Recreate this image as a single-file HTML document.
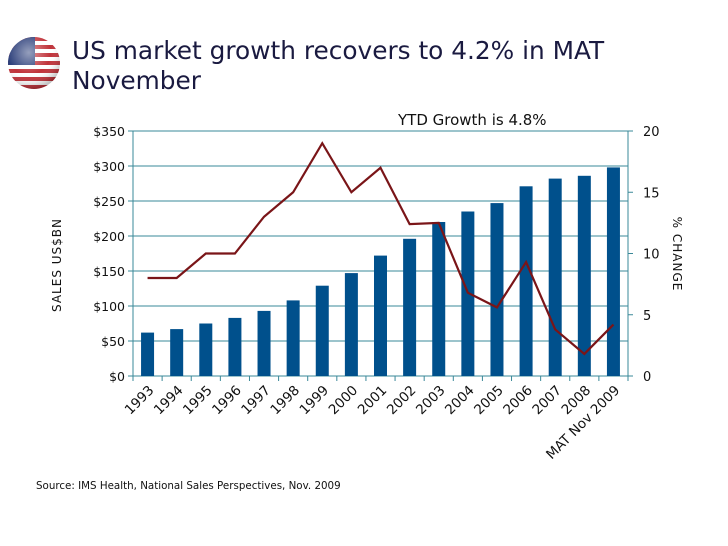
<!DOCTYPE html>
<html><head><meta charset="utf-8"><style>
body{margin:0;width:728px;height:546px;background:#fff;overflow:hidden;font-family:"DejaVu Sans","Liberation Sans",sans-serif;}
svg{position:absolute;left:0;top:0}
</style></head><body>
<svg width="728" height="546">
  <defs>
    <clipPath id="fc"><circle cx="34" cy="63" r="26"/></clipPath>
    <radialGradient id="gl" cx="0.4" cy="0.3" r="0.7"><stop offset="0" stop-color="#fff" stop-opacity="0.5"/><stop offset="0.6" stop-color="#fff" stop-opacity="0"/><stop offset="1" stop-color="#000" stop-opacity="0.25"/></radialGradient>
  </defs>
  <g clip-path="url(#fc)">
    <rect x="8" y="37" width="52" height="52" fill="#fff"/>
    <g id="stripes"></g>
    <rect x="8" y="37" width="27" height="28" fill="#2c3f7a"/>
    <circle cx="34" cy="63" r="26" fill="url(#gl)"/>
  </g>
  <text x="72" y="59" font-size="24.8" fill="#1a1a40">US market growth recovers to 4.2% in MAT</text>
  <text x="72" y="89" font-size="24.8" fill="#1a1a40">November</text>
  <text x="398" y="125" font-size="15" fill="#111">YTD Growth is 4.8%</text>
  <g id="chart"></g>
  <text transform="translate(61,265) rotate(-90)" text-anchor="middle" font-size="12" letter-spacing="1" fill="#111">SALES US$BN</text>
  <text transform="translate(673,254) rotate(90)" text-anchor="middle" font-size="12" letter-spacing="1" fill="#111">% CHANGE</text>
  <text x="36" y="489" font-size="10.3" fill="#111">Source: IMS Health, National Sales Perspectives, Nov. 2009</text>
</svg>
<script>
const categories=["1993","1994","1995","1996","1997","1998","1999","2000","2001","2002","2003","2004","2005","2006","2007","2008","MAT Nov 2009"];
const salesValues=[62,67,75,83,93,108,129,147,172,196,220,235,247,271,282,286,298];
const growthValues=[8.0,8.0,10.0,10.0,13.0,15.0,19.0,15.0,17.0,12.4,12.5,6.8,5.6,9.3,3.8,1.8,4.2];
const leftTicks=[0,50,100,150,200,250,300,350];
const rightTicks=[0,5,10,15,20];
const NS="http://www.w3.org/2000/svg";
const st=document.getElementById('stripes');
for(let i=0;i<13;i+=2){const r=document.createElementNS(NS,'rect');r.setAttribute('x',8);r.setAttribute('y',37+i*4);r.setAttribute('width',52);r.setAttribute('height',4);r.setAttribute('fill','#c0333a');


st.appendChild(r);}
const L=133,R=628,T=131,B=376;
const cw=(R-L)/categories.length;
const yL=v=>B-(v/350)*(B-T);
const yR=v=>B-(v/20)*(B-T);
const xC=i=>L+cw*(i+0.5);
const g=document.getElementById('chart');
function el(t,a,name){const e=document.createElementNS(NS,t);for(const k in a)e.setAttribute(k,a[k]);g.appendChild(e);return e;}
leftTicks.forEach(v=>{
  el('line',{x1:L-5,x2:R,y1:yL(v),y2:yL(v),stroke:'#3a8898','stroke-width':1},'gridline');
  const t=el('text',{x:L-8,y:yL(v)+5,'text-anchor':'end','font-size':12.5,fill:'#111'},'left-tick-label');t.textContent='$'+v;
});
rightTicks.forEach(v=>{
  el('line',{x1:R,x2:R+5,y1:yR(v),y2:yR(v),stroke:'#3a8898'},'right-tick');
  const t=el('text',{x:R+15,y:yR(v)+5,'font-size':13,fill:'#111'},'right-tick-label');t.textContent=v;
});
el('line',{x1:L,x2:L,y1:T,y2:B,stroke:'#3a8898'},'left-axis');
el('line',{x1:R,x2:R,y1:T,y2:B,stroke:'#3a8898'},'right-axis');
categories.forEach((c,i)=>{
  el('line',{x1:L+cw*i,x2:L+cw*i,y1:B,y2:B+5,stroke:'#3a8898'},'x-tick');
  el('rect',{x:xC(i)-6.5,y:yL(salesValues[i]),width:13,height:B-yL(salesValues[i]),fill:'#00508c'},'bar-'+c.replace(/ /g,'-'));
  const x=xC(i)+7,y=B+15;
  const t=el('text',{x:x,y:y,'text-anchor':'end','font-size':13.5,fill:'#111',transform:`rotate(-45 ${x} ${y})`},'x-tick-label');t.textContent=c;
});
el('line',{x1:R,x2:R,y1:B,y2:B+5,stroke:'#3a8898'},'x-tick');
el('polyline',{points:growthValues.map((v,i)=>xC(i)+','+yR(v)).join(' '),fill:'none',stroke:'#7a1518','stroke-width':2.2},'growth-line');
</script>
</body></html>
